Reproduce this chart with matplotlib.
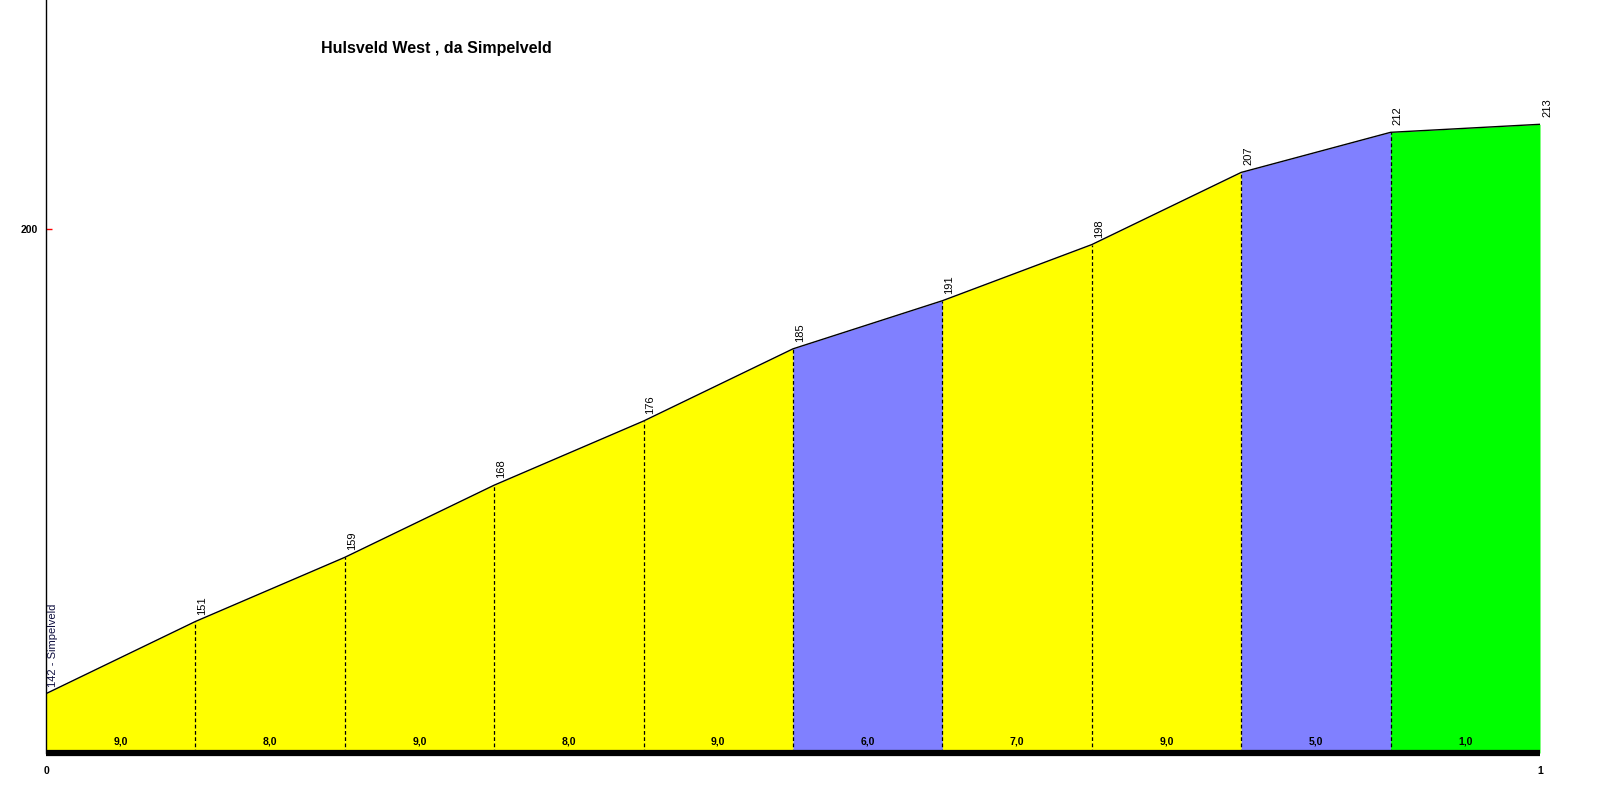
import matplotlib
matplotlib.use('Agg')
import matplotlib.pyplot as plt

plt.rcParams['font.family'] = ['Liberation Sans', 'DejaVu Sans']

# ----- data -----
distance_km = [0.0, 0.1, 0.2, 0.3, 0.4, 0.5, 0.6, 0.7, 0.8, 0.9, 1.0]
elevation = [142, 151, 159, 168, 176, 185, 191, 198, 207, 212, 213]
gradients = ['9,0', '8,0', '9,0', '8,0', '9,0', '6,0', '7,0', '9,0', '5,0', '1,0']
seg_colors = ['#FFFF00', '#FFFF00', '#FFFF00', '#FFFF00', '#FFFF00',
              '#8080FF', '#FFFF00', '#FFFF00', '#8080FF', '#00FF00']
start_name = 'Simpelveld'
title = 'Hulsveld West , da Simpelveld'

# ----- figure -----
fig = plt.figure(figsize=(16, 8), dpi=100)
ax = fig.add_axes([46 / 1600, 47 / 800, (1540 - 46) / 1600, 753 / 800])

ymin, ymax = 134.6, 228.5
ax.set_xlim(0, 1)
ax.set_ylim(ymin, ymax)

# coloured segments
for i in range(len(gradients)):
    x0, x1 = distance_km[i], distance_km[i + 1]
    ax.fill_between([x0, x1], [elevation[i], elevation[i + 1]], ymin,
                    color=seg_colors[i], linewidth=0, zorder=1)
    ax.text((x0 + x1) / 2, 136.0, gradients[i], ha='center', va='center',
            fontsize=7.5, fontweight='bold', zorder=4)

# profile line
ax.plot(distance_km, elevation, color='black', linewidth=1, zorder=3)

# dashed separators
for x, y in zip(distance_km[1:-1], elevation[1:-1]):
    ax.plot([x, x], [ymin, y], color='black', linewidth=0.9,
            linestyle=(0, (3, 2)), zorder=2)

# elevation labels
for i, (x, y) in enumerate(zip(distance_km, elevation)):
    label = f'{y} - {start_name}' if i == 0 else str(y)
    color = '#101040' if i == 0 else 'black'
    ax.annotate(label, (x, y), xytext=(5, 5), textcoords='offset points',
                rotation=90, ha='center', va='bottom', fontsize=8,
                color=color, zorder=4)

# title
fig.text(321 / 1600, 1 - 48 / 800, title, fontsize=11.5, fontweight='bold',
         ha='left', va='center')

# axes styling
for side in ['top', 'right']:
    ax.spines[side].set_visible(False)
ax.spines['left'].set_linewidth(1)
ax.spines['bottom'].set_linewidth(4.5)
ax.spines['bottom'].set_capstyle('butt')

ax.set_yticks([200])
ax.set_yticklabels(['200'], fontsize=7.5, fontweight='bold')
ax.tick_params(axis='y', direction='in', length=4, color='red', width=1, pad=6)
ax.set_xticks([0, 1])
ax.set_xticklabels(['0', '1'], fontsize=7.5, fontweight='bold')
ax.tick_params(axis='x', length=0, pad=9)

fig.savefig('out.png', dpi=100)
